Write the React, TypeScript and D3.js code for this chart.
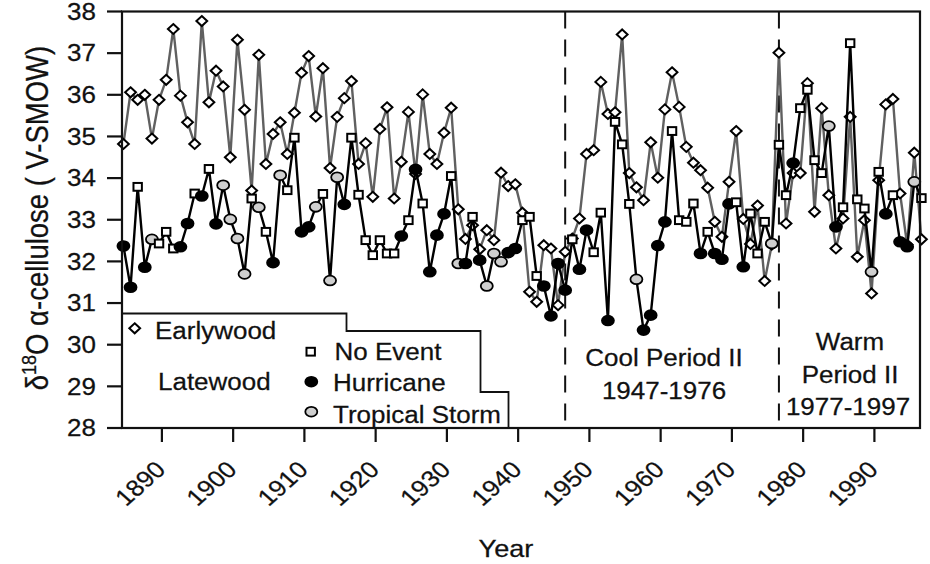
import React from "react";
import * as d3 from "d3";

const YEARS = [
  1885, 1886, 1887, 1888, 1889, 1890, 1891, 1892, 1893, 1894,
  1895, 1896, 1897, 1898, 1899, 1900, 1901, 1902, 1903, 1904,
  1905, 1906, 1907, 1908, 1909, 1910, 1911, 1912, 1913, 1914,
  1915, 1916, 1917, 1918, 1919, 1920, 1921, 1922, 1923, 1924,
  1925, 1926, 1927, 1928, 1929, 1930, 1931, 1932, 1933, 1934,
  1935, 1936, 1937, 1938, 1939, 1940, 1941, 1942, 1943, 1944,
  1945, 1946, 1947, 1948, 1949, 1950, 1951, 1952, 1953, 1954,
  1955, 1956, 1957, 1958, 1959, 1960, 1961, 1962, 1963, 1964,
  1965, 1966, 1967, 1968, 1969, 1970, 1971, 1972, 1973, 1974,
  1975, 1976, 1977, 1978, 1979, 1980, 1981, 1982, 1983, 1984,
  1985, 1986, 1987, 1988, 1989, 1990, 1991, 1992, 1993, 1994,
  1995, 1996, 1997,
];

const EARLYWOOD = [
  34.82, 36.06, 35.88, 36.0, 34.95, 35.88, 36.36, 37.58, 35.98, 35.34,
  34.82, 37.77, 35.82, 36.58, 36.2, 34.5, 37.32, 35.64, 33.7, 36.96,
  34.34, 35.06, 35.34, 34.58, 35.57, 36.53, 36.93, 35.48, 36.64, 34.24,
  35.47, 35.92, 36.33, 34.34, 34.84, 33.55, 35.18, 35.7, 33.51, 34.39,
  35.59, 34.1, 36.01, 34.58, 34.34, 35.09, 35.69, 33.25, 32.54, 32.87,
  32.29, 32.75, 32.51, 34.13, 33.81, 33.85, 33.17, 31.27, 31.03, 32.39,
  32.31, 30.95, 32.23, 32.55, 33.03, 34.58, 34.67, 36.31, 35.54, 35.58,
  37.45, 34.12, 33.78, 33.47, 34.86, 34.01, 35.65, 36.54, 35.71, 34.75,
  34.37, 34.19, 33.77, 32.95, 32.59, 33.91, 35.13, 33.02, 32.42, 33.34,
  31.53, 32.4, 37.01, 32.91, 34.12, 34.12, 36.28, 33.19, 35.68, 33.59,
  32.31, 33.03, 35.47, 32.11, 32.99, 31.23, 33.95, 35.77, 35.9, 33.63,
  32.4, 34.61, 32.53,
];

const LATEWOOD = [
  32.37, 31.38, 33.79, 31.86, 32.53, 32.43, 32.71, 32.31, 32.35, 32.91,
  33.63, 33.57, 34.22, 32.9, 33.83, 33.01, 32.55, 31.7, 33.51, 33.3,
  32.71, 31.97, 34.07, 33.71, 34.97, 32.71, 32.83, 33.31, 33.62, 31.54,
  34.02, 33.37, 34.97, 33.6, 32.51, 32.15, 32.51, 32.19, 32.19, 32.61,
  32.99, 34.21, 33.39, 31.75, 32.63, 33.14, 34.05, 31.95, 31.95, 33.07,
  32.03, 31.41, 32.19, 31.99, 32.21, 32.31, 32.99, 33.07, 31.65, 31.41,
  30.69, 31.95, 31.31, 32.53, 31.81, 32.75, 32.22, 33.17, 30.58, 35.35,
  34.81, 33.38, 31.57, 30.35, 30.71, 32.38, 32.95, 35.13, 32.99, 32.95,
  33.39, 32.19, 32.71, 32.19, 32.05, 33.38, 33.42, 31.87, 33.15, 32.19,
  32.95, 32.43, 34.8, 33.59, 34.36, 35.68, 36.12, 34.43, 34.12, 35.25,
  32.83, 33.3, 37.24, 33.49, 33.27, 31.75, 34.15, 33.14, 33.59, 32.47,
  32.35, 33.91, 33.52,
];

// N = no event, H = hurricane, T = tropical storm
const LATEWOOD_EVENT = [
  "H", "H", "N", "H", "T", "N", "N", "N", "H", "H",
  "N", "H", "N", "H", "T", "T", "T", "T", "N", "T",
  "N", "H", "T", "N", "N", "H", "H", "T", "N", "T",
  "T", "H", "N", "N", "N", "N", "N", "N", "N", "H",
  "N", "H", "N", "H", "H", "H", "N", "T", "H", "N",
  "H", "T", "T", "T", "H", "H", "N", "N", "N", "H",
  "H", "H", "H", "N", "H", "H", "N", "N", "H", "N",
  "N", "N", "T", "H", "H", "H", "H", "N", "N", "N",
  "N", "H", "N", "H", "H", "H", "N", "H", "N", "N",
  "N", "T", "N", "N", "H", "N", "N", "N", "N", "T",
  "H", "N", "N", "N", "N", "T", "N", "H", "N", "H",
  "H", "T", "N",
];

const X_TICKS = [1890, 1900, 1910, 1920, 1930, 1940, 1950, 1960, 1970, 1980, 1990];
const Y_TICKS = [28, 29, 30, 31, 32, 33, 34, 35, 36, 37, 38];
const PERIOD_BOUNDS = [1947, 1977];

const FONT = "'Liberation Sans', Arial, Helvetica, sans-serif";
const SX = 1.13;
const LEFT = 122;
const RIGHT = 920;
const TOP = 11.5;
const BOTTOM = 428;
const POINT_SHIFT = 0.4;

const x = d3.scaleLinear().domain([1884.4, 1996.4]).range([LEFT, RIGHT]);
const y = d3.scaleLinear().domain([28, 38]).range([BOTTOM, TOP]);
const px = (yr: number) => x(yr - POINT_SHIFT);

function T(props: {
  x: number;
  y: number;
  anchor?: string;
  size?: number;
  rotate?: number;
  children: React.ReactNode;
}) {
  const { anchor = "start", size = 23, rotate = 0 } = props;
  return (
    <text
      transform={`translate(${props.x},${props.y}) scale(${SX},1)${rotate ? ` rotate(${rotate})` : ""}`}
      textAnchor={anchor}
      fontSize={size}
      fontFamily={FONT}
      fill="#111"
      stroke="#111"
      strokeWidth={0.25}
    >
      {props.children}
    </text>
  );
}

function Diamond({ cx, cy }: { cx: number; cy: number }) {
  const w = 5.4;
  const h = 5.0;
  return (
    <path
      d={`M${cx},${cy - h}L${cx + w},${cy}L${cx},${cy + h}L${cx - w},${cy}Z`}
      fill="#fff"
      stroke="#000"
      strokeWidth={2}
    />
  );
}

function Marker({ cx, cy, kind }: { cx: number; cy: number; kind: string }) {
  if (kind === "N") {
    return (
      <rect x={cx - 4.2} y={cy - 3.9} width={8.4} height={7.8} fill="#fff" stroke="#000" strokeWidth={2} />
    );
  }
  return (
    <ellipse
      cx={cx}
      cy={cy}
      rx={6.0}
      ry={4.9}
      fill={kind === "H" ? "#000" : "#cfcfcf"}
      stroke="#000"
      strokeWidth={1.8}
    />
  );
}

export default function App() {
  const earlyLine = d3
    .line<number>()
    .x((_, i) => px(YEARS[i]))
    .y((d) => y(d))(EARLYWOOD) as string;
  const lateLine = d3
    .line<number>()
    .x((_, i) => px(YEARS[i]))
    .y((d) => y(d))(LATEWOOD) as string;

  const legendPath = `M${LEFT},313.5 H346.5 V331 H480.5 V392 H508.5 V${BOTTOM}`;

  return (
    <svg
      width={930}
      height={564}
      viewBox="0 0 930 564"
      style={{ position: "absolute", left: 0, top: 0, background: "#fff" }}
    >
      <rect x={0} y={0} width={930} height={564} fill="#fff" />

      {/* period boundaries */}
      {PERIOD_BOUNDS.map((b) => (
        <line
          key={b}
          x1={px(b)}
          x2={px(b)}
          y1={TOP}
          y2={BOTTOM}
          stroke="#111"
          strokeWidth={2}
          strokeDasharray="17,11"
        />
      ))}

      {/* earlywood */}
      <path d={earlyLine} fill="none" stroke="#606060" strokeWidth={2.4} />
      {EARLYWOOD.map((v, i) => (
        <Diamond key={"e" + i} cx={px(YEARS[i])} cy={y(v)} />
      ))}

      {/* latewood */}
      <path d={lateLine} fill="none" stroke="#000" strokeWidth={2.4} />
      {LATEWOOD.map((v, i) => (
        <Marker key={"l" + i} cx={px(YEARS[i])} cy={y(v)} kind={LATEWOOD_EVENT[i]} />
      ))}

      {/* frame */}
      <rect x={LEFT} y={TOP} width={RIGHT - LEFT} height={BOTTOM - TOP} fill="none" stroke="#111" strokeWidth={2.2} />

      {/* y ticks */}
      {Y_TICKS.map((t) => (
        <g key={"y" + t}>
          <line x1={LEFT - 15} x2={LEFT} y1={y(t)} y2={y(t)} stroke="#111" strokeWidth={2.2} />
          <T x={96} y={y(t) + 8.3} anchor="end" size={23}>
            {t}
          </T>
        </g>
      ))}

      {/* x ticks */}
      {X_TICKS.map((t) => (
        <g key={"x" + t}>
          <line x1={x(t)} x2={x(t)} y1={BOTTOM} y2={BOTTOM + 14} stroke="#111" strokeWidth={2.2} />
          <T x={x(t) + 5} y={471} anchor="end" size={23} rotate={-45}>
            {t}
          </T>
        </g>
      ))}

      {/* axis titles */}
      <T x={506} y={557} anchor="middle" size={24}>
        Year
      </T>
      <text
        transform={`translate(48,218) scale(${SX},1) rotate(-90)`}
        textAnchor="middle"
        fontSize={27.5}
        fontFamily={FONT}
        fill="#111"
        stroke="#111"
        strokeWidth={0.25}
      >
        <tspan>δ</tspan>
        <tspan fontSize={18} dy={-11}>
          18
        </tspan>
        <tspan dy={11}>O α-cellulose ( V-SMOW)</tspan>
      </text>

      {/* legend */}
      <path d={legendPath} fill="none" stroke="#111" strokeWidth={1.8} />
      <Diamond cx={134.7} cy={328.3} />
      <T x={155} y={338.5}>Earlywood</T>
      <T x={158} y={389.5}>Latewood</T>
      <Marker cx={310.7} cy={351.7} kind="N" />
      <T x={334.5} y={360}>No Event</T>
      <Marker cx={311.3} cy={381.7} kind="H" />
      <T x={333} y={391}>Hurricane</T>
      <Marker cx={311.3} cy={411.7} kind="T" />
      <T x={333} y={423}>Tropical Storm</T>

      {/* period labels */}
      <T x={664} y={366} anchor="middle">Cool Period II</T>
      <T x={664} y={399} anchor="middle">1947-1976</T>
      <T x={850} y={350} anchor="middle">Warm</T>
      <T x={850} y={383} anchor="middle">Period II</T>
      <T x={848} y={415} anchor="middle">1977-1997</T>
    </svg>
  );
}
